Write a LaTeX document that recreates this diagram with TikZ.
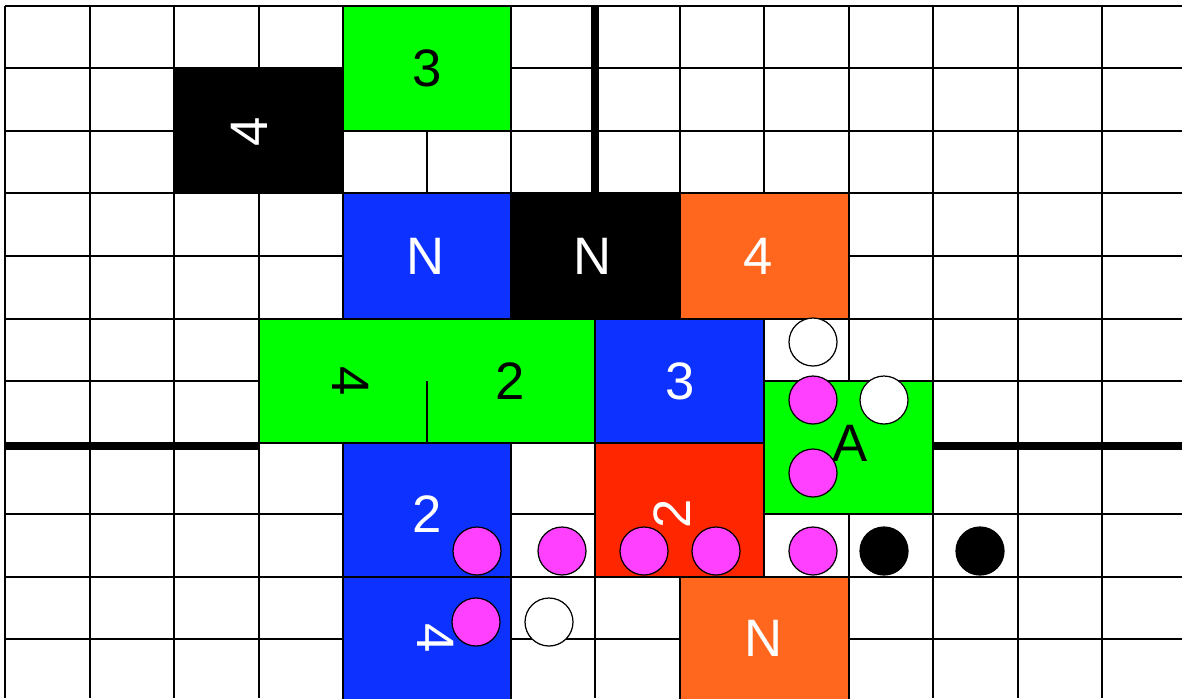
\documentclass[tikz,border=0pt]{standalone}
\usepackage{fontspec}
\setmainfont{Liberation Sans}
\definecolor{tilegreen}{RGB}{0,255,0}
\definecolor{tileblue}{RGB}{13,50,255}
\definecolor{tileorange}{RGB}{255,102,30}
\definecolor{tilered}{RGB}{255,38,0}
\definecolor{tokenpink}{RGB}{255,64,255}
\tikzset{
  gridline/.style={black, line width=0.7pt},
  wall/.style={black, line width=4pt},
  tiletext/.style={font=\fontsize{30}{36}\selectfont, inner sep=0pt},
  token/.style={circle, draw=black, line width=0.7pt, minimum size=0.96cm, inner sep=0pt},
}
\begin{document}
\begin{tikzpicture}[x=0.02cm, y=-0.02cm]
    \useasboundingbox (0,0) rectangle (1182,698);
    % board grid
    \foreach \gx in {5,90,174,259,343,427,511,595,680,764,849,933,1018,1102}
      \draw[gridline] (\gx,6) -- (\gx,698);
    \foreach \gy in {6,68,131,193,256,319,381,443,514,577,639}
      \draw[gridline] (5,\gy) -- (1182,\gy);
    % coloured tiles
    \foreach \tc/\xa/\ya/\xb/\yb in {black/174/68/343/193, tilegreen/343/6/511/131,
        tileblue/343/193/511/319, black/511/193/680/319, tileorange/680/193/849/319,
        tileblue/595/319/764/443, tilegreen/259/319/595/443, tilegreen/764/381/933/514,
        tileblue/343/443/511/577, tilered/595/443/764/577, tileblue/343/577/511/702,
        tileorange/680/577/849/702}
      \filldraw[gridline, fill=\tc] (\xa,\ya) rectangle (\xb,\yb);
    \draw[gridline] (427,381) -- (427,443);
    % walls
    \draw[wall] (595,6) -- (595,193);
    \draw[wall] (5,446.5) -- (259,446.5);
    \draw[wall] (933,446.5) -- (1182,446.5);
    % tile labels
    \foreach \nm/\px/\py/\rot/\tc/\txt in {b4/249/132/90/white/4, g3/427/68/0/black/3,
        bN/426/256/0/white/N, kN/593/256/0/white/N, o4/758/256/0/white/4,
        g4/351/381/-90/black/4, g2/510/381/0/black/2, b3/680/381/0/white/3,
        gA/850/443/0/black/A, b2/427/514/0/white/2, r2/672/514/90/white/2,
        b4low/436/638/-90/white/4, oN/764/638/0/white/N}
      \node[tiletext, text=\tc, rotate=\rot] (\nm) at (\px,\py) {\txt};
    % tokens
    \foreach \nm/\px/\py/\fc in {p1/477/551/tokenpink, p2/562/551/tokenpink,
        p3/644/551/tokenpink, p4/716/551/tokenpink, p5/476/622/tokenpink,
        p6/813/400/tokenpink, p7/813/473/tokenpink, p8/813/551/tokenpink,
        w1/549/622/white, w2/813/342/white, w3/884/400/white,
        k1/884/551/black, k2/980/551/black}
      \node[token, fill=\fc] (\nm) at (\px,\py) {};
\end{tikzpicture}
\end{document}
